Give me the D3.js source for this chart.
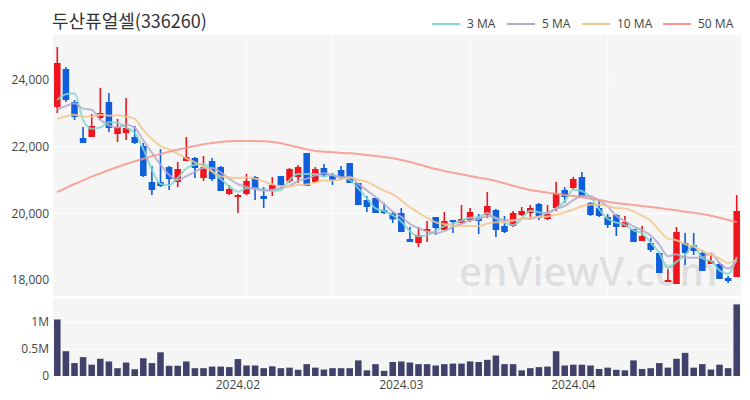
<!DOCTYPE html>
<html>
<head>
<meta charset="utf-8">
<script src="https://cdn.jsdelivr.net/npm/d3@7"></script>
<style>
  body { margin: 0; background: #fff; }
  text { font-family: "Open Sans", "Noto Sans", sans-serif; }
</style>
</head>
<body>
<div id="chart"></div>
<script>
// trading days shown (Jan 3 - Apr 29, 2024)
const dates = [
  "2024-01-03","2024-01-04","2024-01-05","2024-01-08","2024-01-09","2024-01-10","2024-01-11","2024-01-12",
  "2024-01-15","2024-01-16","2024-01-17","2024-01-18","2024-01-19","2024-01-22","2024-01-23","2024-01-24",
  "2024-01-25","2024-01-26","2024-01-29","2024-01-30","2024-01-31",
  "2024-02-01","2024-02-02","2024-02-05","2024-02-06","2024-02-07","2024-02-08","2024-02-13","2024-02-14",
  "2024-02-15","2024-02-16","2024-02-19","2024-02-20","2024-02-21","2024-02-22","2024-02-23","2024-02-26",
  "2024-02-27","2024-02-28","2024-02-29",
  "2024-03-04","2024-03-05","2024-03-06","2024-03-07","2024-03-08","2024-03-11","2024-03-12","2024-03-13",
  "2024-03-14","2024-03-15","2024-03-18","2024-03-19","2024-03-20","2024-03-21","2024-03-22","2024-03-25",
  "2024-03-26","2024-03-27","2024-03-28","2024-03-29",
  "2024-04-01","2024-04-02","2024-04-03","2024-04-04","2024-04-05","2024-04-08","2024-04-09","2024-04-11",
  "2024-04-12","2024-04-15","2024-04-16","2024-04-17","2024-04-18","2024-04-19","2024-04-22","2024-04-23",
  "2024-04-24","2024-04-25","2024-04-26","2024-04-29"
];

const opens = [23190,24330,23340,22260,22290,22860,23340,22380,22410,22290,22020,20940,20940,21390,20940,21570,
  21660,21060,21570,21390,20580,20490,20580,21090,20520,20700,21120,20970,21090,21810,20940,21360,
  21150,21300,21510,20910,20400,20460,20100,20000,20010,19230,19110,19470,19890,19500,19800,19710,
  19800,19860,19950,20100,19620,19620,19950,20010,20280,19830,20160,20700,20760,21090,20310,20160,
  19890,19950,19590,19530,19170,19110,18810,17940,17880,19110,19050,18810,18480,18480,18060,18090];
const highs = [24990,24390,23400,22590,22980,23760,23610,22830,23460,22620,22110,21420,21930,21420,21540,22290,
  21690,21720,21660,21420,20850,20580,21180,21120,20790,21090,21120,21360,21450,21810,21390,21480,
  21210,21420,21510,20910,20520,20460,20310,20040,20160,19590,19590,19770,19890,20040,19800,20250,
  20160,19980,20640,20130,19920,20070,20190,20250,20310,20250,20940,20790,21090,21240,20340,20400,
  19980,19980,19920,19530,19620,19260,18840,18330,19590,19410,19410,18900,18810,18540,18120,20550];
const lows = [23010,23340,22800,22110,22290,22800,22440,22140,22200,22080,21090,20550,20790,20700,20790,21570,
  21060,20970,20970,20670,20550,20010,20550,20400,20160,20520,20760,20910,20910,20820,20910,21090,
  20850,21000,20910,20250,20040,20010,19980,19710,19440,19140,18990,19140,19350,19500,19410,19710,
  19740,19380,19860,19290,19410,19590,19920,19830,19800,19800,20070,20310,20730,20490,19920,19890,
  19560,19320,19590,19140,19170,18840,18210,17940,17880,18450,18750,18270,18480,18030,17910,18090];
const closes = [24510,23400,22890,22110,22620,23010,22560,22590,22560,22110,21120,20700,20820,21030,21330,21690,
  21360,21390,21030,20670,20730,20550,20970,20730,20430,20850,20820,21330,21390,20820,21330,21150,
  21000,21090,20910,20250,20190,20010,20010,19820,19440,19140,19350,19530,19560,19770,19740,19830,
  20040,19770,20220,19500,19440,20010,20070,20160,19860,19980,20610,20490,21030,20490,19950,19920,
  19650,19590,19740,19140,19320,18900,18210,18000,19440,18810,18870,18270,18570,18030,17970,20070];
// closes before the first shown day, only used for the short moving averages
const priorCloses = [22500,22400,22700,22600,22500,22800,22500,22900,22800];

const volumes = [1050000,460000,240000,350000,210000,320000,270000,145000,250000,125000,330000,240000,440000,190000,
  190000,270000,145000,145000,175000,175000,165000,315000,195000,195000,145000,180000,145000,155000,
  115000,220000,155000,120000,145000,145000,145000,290000,105000,220000,95000,260000,270000,250000,
  220000,220000,195000,220000,230000,230000,270000,260000,300000,380000,220000,220000,105000,145000,
  165000,175000,460000,195000,210000,210000,195000,130000,155000,115000,105000,290000,130000,145000,
  240000,155000,320000,430000,155000,220000,120000,210000,145000,1330000];

// 50-day average (needs history not shown)
const ma50 = [20640,20760,20880,20990,21100,21200,21300,21390,21480,21560,21640,21710,21780,21850,21910,21970,
  22020,22070,22110,22140,22160,22170,22170,22170,22160,22140,22100,22040,21980,21920,21870,21850,
  21830,21810,21800,21780,21750,21720,21690,21650,21600,21540,21470,21400,21330,21270,21220,21170,
  21120,21070,21030,20970,20900,20830,20760,20700,20660,20620,20590,20550,20520,20480,20440,20400,
  20350,20310,20280,20250,20220,20190,20160,20120,20090,20050,20020,19980,19930,19870,19800,19740];

const priceTicks = [18000, 20000, 22000, 24000];
const volumeTicks = [0, 500000, 1000000];
const monthTicks = ["2024-02-01", "2024-03-04", "2024-04-01"];
const gridDates = ["2024-02-02", "2024-02-20", "2024-03-14", "2024-04-05"];
const maSeries = [
  { name: "3 MA", n: 3, color: "#7fd7cd" },
  { name: "5 MA", n: 5, color: "#b9a8cc" },
  { name: "10 MA", n: 10, color: "#f2c78f" },
  { name: "50 MA", n: 50, color: "#f6968c" }
];

const width = 750, height = 400;
const left = 53, right = 741;
const main = { top: 35, bottom: 296 };
const vol = { top: 299, bottom: 376 };
const upColor = "#f0141e", downColor = "#0f5fdc";

const svg = d3.select("#chart").append("svg")
  .attr("width", width)
  .attr("height", height);

const x = d3.scaleBand().domain(dates).range([left, right]);
const cx = d => x(d) + x.bandwidth() / 2;
const y = d3.scaleLinear().domain([17520, 25350]).range([main.bottom, main.top]);
const yv = d3.scaleLinear().domain([0, 1430000]).range([vol.bottom, vol.top]);

// panels
svg.append("rect").attr("x", left).attr("y", main.top).attr("width", right - left)
  .attr("height", main.bottom - main.top).attr("fill", "#f5f5f5");
svg.append("rect").attr("x", left).attr("y", vol.top).attr("width", right - left)
  .attr("height", vol.bottom - vol.top).attr("fill", "#f5f5f5");

// grid
svg.append("g").selectAll("line").data(priceTicks).join("line")
  .attr("x1", left).attr("x2", right)
  .attr("y1", d => y(d)).attr("y2", d => y(d))
  .attr("stroke", "#fff").attr("stroke-width", 1);
svg.append("g").selectAll("line").data(gridDates).join("line")
  .attr("x1", d => cx(d)).attr("x2", d => cx(d))
  .attr("y1", main.top).attr("y2", main.bottom)
  .attr("stroke", "#fff").attr("stroke-width", 1);
svg.append("g").selectAll("line").data(volumeTicks.slice(1)).join("line")
  .attr("x1", left).attr("x2", right)
  .attr("y1", d => yv(d)).attr("y2", d => yv(d))
  .attr("stroke", "#fff").attr("stroke-width", 1);

// watermark
svg.append("text")
  .attr("x", 459).attr("y", 286)
  .attr("font-size", 40)
  .attr("font-weight", 600)
  .attr("fill", "#000").attr("fill-opacity", 0.1)
  .text("enViewV.com");

// axes
const yAxis = svg.append("g")
  .attr("transform", `translate(${left},0)`)
  .call(d3.axisLeft(y).tickValues(priceTicks).tickFormat(d3.format(",")).tickSize(0).tickPadding(4));
const yvAxis = svg.append("g")
  .attr("transform", `translate(${left},0)`)
  .call(d3.axisLeft(yv).tickValues(volumeTicks)
    .tickFormat(d => d === 0 ? "0" : (d / 1e6) + "M").tickSize(0).tickPadding(4));
const xAxis = svg.append("g")
  .attr("transform", `translate(0,${vol.bottom})`)
  .call(d3.axisBottom(x).tickValues(monthTicks)
    .tickFormat(d => d.slice(0, 7).replace("-", ".")).tickSize(0).tickPadding(4));
[yAxis, yvAxis, xAxis].forEach(g => {
  g.select(".domain").remove();
  g.selectAll("text").attr("font-size", 12).attr("fill", "#444")
    .style("font-family", "'Open Sans', sans-serif");
});

// candles
const candles = svg.append("g").selectAll("g").data(dates).join("g");
candles.append("line")
  .attr("x1", (d) => cx(d)).attr("x2", (d) => cx(d))
  .attr("y1", (d, i) => y(highs[i])).attr("y2", (d, i) => y(lows[i]))
  .attr("stroke", (d, i) => closes[i] >= opens[i] ? upColor : downColor)
  .attr("stroke-width", 1.6);
const bw = x.bandwidth() * 0.76;
candles.append("rect")
  .attr("x", d => cx(d) - bw / 2)
  .attr("width", bw)
  .attr("y", (d, i) => y(Math.max(opens[i], closes[i])))
  .attr("height", (d, i) => Math.max(1, Math.abs(y(opens[i]) - y(closes[i]))))
  .attr("fill", (d, i) => closes[i] >= opens[i] ? upColor : downColor);

// moving averages
const allCloses = priorCloses.concat(closes);
const p = priorCloses.length;
function movingAvg(n) {
  return closes.map((c, i) => d3.mean(allCloses.slice(p + i - n + 1, p + i + 1)));
}
const line = d3.line().x((d, i) => cx(dates[i])).y(d => y(d)).curve(d3.curveMonotoneX);
maSeries.forEach(s => {
  const values = s.n === 50 ? ma50 : movingAvg(s.n);
  svg.append("path")
    .datum(values)
    .attr("d", line)
    .attr("fill", "none")
    .attr("stroke", s.color)
    .attr("stroke-width", 2)
    .attr("stroke-opacity", 0.85);
});

// volume
svg.append("g").selectAll("rect").data(dates).join("rect")
  .attr("x", d => cx(d) - bw / 2)
  .attr("width", bw)
  .attr("y", (d, i) => yv(volumes[i]))
  .attr("height", (d, i) => yv(0) - yv(volumes[i]))
  .attr("fill", "#41416b");

// title
svg.append("text")
  .attr("x", 52).attr("y", 28)
  .attr("font-size", 18)
  .attr("fill", "#333")
  .style("font-family", "'Noto Sans CJK KR', sans-serif")
  .text("두산퓨얼셀(336260)");

// legend
const legendX = [432, 507, 582, 663];
const legend = svg.append("g").selectAll("g").data(maSeries).join("g")
  .attr("transform", (d, i) => `translate(${legendX[i]},24)`);
legend.append("line").attr("x1", 0).attr("x2", 28)
  .attr("stroke", d => d.color).attr("stroke-width", 2);
legend.append("text").attr("x", 35).attr("y", 4)
  .attr("font-size", 12).attr("fill", "#444")
  .text(d => d.name);
</script>
</body>
</html>
